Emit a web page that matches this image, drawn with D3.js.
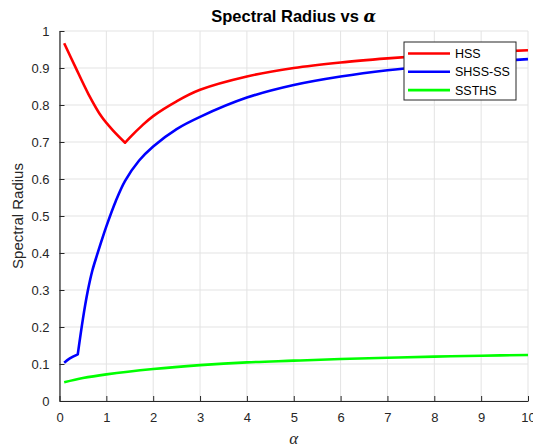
<!DOCTYPE html>
<html>
<head>
<meta charset="utf-8">
<script src="https://cdn.jsdelivr.net/npm/d3@7"></script>
<style>
  body { margin: 0; background: #fff; }
  text { font-family: "Liberation Sans", Arial, sans-serif; }
</style>
</head>
<body>
<svg id="chart" width="533" height="447"></svg>
<script>
// values
var hssAlpha = [0.1, 0.33, 0.62, 0.9, 1.15, 1.4, 1.5, 1.75, 2.0, 2.5, 3, 4, 5, 6, 7, 8, 9, 10];
var hssRho   = [0.967, 0.905, 0.829, 0.768, 0.730, 0.698, 0.712, 0.743, 0.770, 0.810, 0.841, 0.877, 0.900, 0.915, 0.926, 0.935, 0.942, 0.948];

var shssAlpha = [0.1, 0.22, 0.39, 0.5, 0.6, 0.7, 0.8, 0.9, 1.0, 1.2, 1.4, 1.7, 2.0, 2.5, 3, 4, 5, 6, 7, 8, 9, 10];
var shssRho   = [0.1035, 0.115, 0.126, 0.222, 0.295, 0.352, 0.394, 0.434, 0.472, 0.540, 0.595, 0.650, 0.688, 0.735, 0.768, 0.820, 0.854, 0.877, 0.894, 0.906, 0.916, 0.924];

var ssthsAlpha = [0.1, 0.5, 1, 2, 3, 4, 5, 6, 7, 8, 9, 10];
var ssthsRho   = [0.0505, 0.062, 0.072, 0.0865, 0.097, 0.1045, 0.109, 0.1135, 0.117, 0.12, 0.1225, 0.1243];

// index where a curve has a sharp corner (split into smooth pieces there)
var hssCorner = 5;
var shssCorner = 2;

var seriesNames = ["HSS", "SHSS-SS", "SSTHS"];
var seriesColors = ["#ff0000", "#0000ff", "#00ff00"];
var xTicks = [0, 1, 2, 3, 4, 5, 6, 7, 8, 9, 10];
var yTicks = [0, 0.1, 0.2, 0.3, 0.4, 0.5, 0.6, 0.7, 0.8, 0.9, 1];

var series = [
  {name: seriesNames[0], color: seriesColors[0], pts: d3.zip(hssAlpha, hssRho), corner: hssCorner},
  {name: seriesNames[1], color: seriesColors[1], pts: d3.zip(shssAlpha, shssRho), corner: shssCorner},
  {name: seriesNames[2], color: seriesColors[2], pts: d3.zip(ssthsAlpha, ssthsRho), corner: null}
];

var svg = d3.select("#chart");
var mLeft = 59.5, mRight = 528, mTop = 31, mBottom = 401;

var x = d3.scaleLinear().domain([0, 10]).range([mLeft, mRight]);
var y = d3.scaleLinear().domain([0, 1]).range([mBottom, mTop]);

// grid
var grid = svg.append("g").attr("stroke", "#e3e3e3").attr("stroke-width", 1);
grid.selectAll("line.gx").data(xTicks).join("line").attr("class", "gx")
  .attr("x1", d => x(d)).attr("x2", d => x(d))
  .attr("y1", mTop).attr("y2", mBottom);
grid.selectAll("line.gy").data(yTicks).join("line").attr("class", "gy")
  .attr("x1", mLeft).attr("x2", mRight)
  .attr("y1", d => y(d)).attr("y2", d => y(d));

// axes
var xAxis = svg.append("g")
  .attr("transform", "translate(0," + mBottom + ")")
  .call(d3.axisBottom(x).tickValues(xTicks).tickSizeInner(-5).tickSizeOuter(0).tickPadding(12).tickFormat(d3.format("d")));
var yAxis = svg.append("g")
  .attr("transform", "translate(" + mLeft + ",0)")
  .call(d3.axisLeft(y).tickValues(yTicks).tickSizeInner(-5).tickSizeOuter(0).tickPadding(10).tickFormat(d => d === 0 || d === 1 ? d3.format("d")(d) : d3.format(".1f")(d)));

[xAxis, yAxis].forEach(function(a){
  a.select(".domain").attr("stroke", "#262626").attr("stroke-width", 1.2);
  a.selectAll(".tick line").attr("stroke", "#262626");
  a.selectAll(".tick text").attr("fill", "#262626").style("font-size", "13px")
    .style("font-family", "'Liberation Sans', Arial, sans-serif");
});

// lines (smooth pieces, joined at the sharp corner)
var line = d3.line().x(d => x(d[0])).y(d => y(d[1])).curve(d3.curveCatmullRom.alpha(0.5));
function pathFor(s) {
  if (s.corner == null) return line(s.pts);
  return line(s.pts.slice(0, s.corner + 1)) + line(s.pts.slice(s.corner)).replace(/^M/, "L");
}
svg.append("g").selectAll("path")
  .data(series)
  .join("path")
  .attr("fill", "none")
  .attr("stroke", d => d.color)
  .attr("stroke-width", 2.6)
  .attr("stroke-linejoin", "round")
  .attr("d", pathFor);

// title
var title = svg.append("text")
  .attr("x", (mLeft + mRight) / 2).attr("y", 22)
  .attr("text-anchor", "middle")
  .style("font-size", "16.5px").style("font-weight", "bold").attr("fill", "#000");
title.append("tspan").text("Spectral Radius vs ");
title.append("tspan").text("α")
  .style("font-family", "'DejaVu Serif', 'Liberation Serif', serif").style("font-style", "italic");

// axis labels
svg.append("text")
  .attr("transform", "translate(23," + ((mTop + mBottom) / 2) + ") rotate(-90)")
  .attr("text-anchor", "middle")
  .attr("fill", "#262626")
  .style("font-size", "15px")
  .text("Spectral Radius");

svg.append("text")
  .attr("x", (mLeft + mRight) / 2).attr("y", 444)
  .attr("text-anchor", "middle")
  .attr("fill", "#262626")
  .style("font-family", "'Liberation Serif', serif").style("font-style", "italic")
  .style("font-size", "17px")
  .text("α");

// legend
var lg = svg.append("g").attr("transform", "translate(404,42)");
lg.append("rect").attr("width", 112).attr("height", 58)
  .attr("fill", "#fff").attr("stroke", "#262626").attr("stroke-width", 1);
var rows = lg.selectAll("g.row").data(series).join("g")
  .attr("transform", (d, i) => "translate(0," + (11.5 + i * 18.3) + ")");
rows.append("line").attr("x1", 4).attr("x2", 46)
  .attr("stroke", d => d.color).attr("stroke-width", 2.6);
rows.append("text").attr("x", 51).attr("y", 4.5)
  .style("font-size", "12.5px").attr("fill", "#000")
  .text(d => d.name);
</script>
</body>
</html>
